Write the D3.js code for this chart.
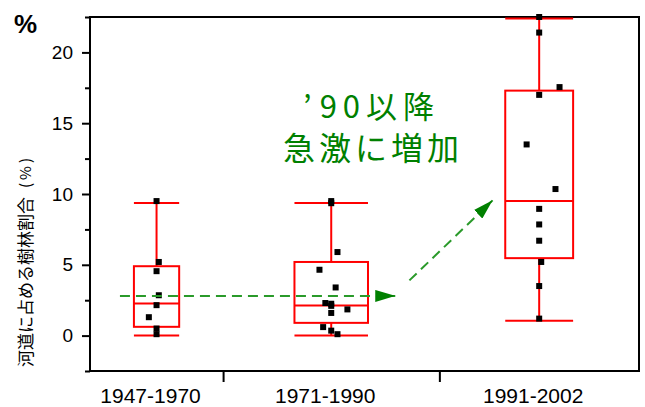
<!DOCTYPE html>
<html><head><meta charset="utf-8">
<script src="https://cdn.jsdelivr.net/npm/d3@7"></script>
<style>body{margin:0;background:#fff}svg{display:block}</style>
</head><body>
<svg id="c" width="645" height="407"></svg>
<script>
// ---- data ----
const categories = ["1947-1970", "1971-1990", "1991-2002"];
const points = [
  [9.5, 5.2, 4.55, 2.85, 2.15, 1.3, 0.5, 0.1],
  [9.5, 9.35, 5.9, 4.65, 3.4, 2.3, 2.25, 2.1, 1.85, 1.6, 0.6, 0.35, 0.1],
  [22.5, 21.4, 17.55, 17.0, 13.5, 10.35, 8.95, 7.85, 6.7, 5.2, 3.5, 1.2]
];
// horizontal jitter of each point, as fraction of half box width
const jitter = [
  [0, 0.1, 0, 0.1, 0, -0.34, 0, 0],
  [0, 0, 0.17, -0.32, 0.12, -0.16, 0, 0, 0.44, 0, -0.22, 0, 0.17],
  [0, 0, 0.6, 0, -0.37, 0.48, 0, 0, 0, 0.06, 0, 0]
];
const whiskerLow  = [0, 0, 1.05];
const q1          = [0.62, 0.9, 5.47];
const median      = [2.27, 2.13, 9.5];
const q3          = [4.9, 5.2, 17.3];
const whiskerHigh = [9.37, 9.37, 22.4];
const yTicks = [0, 5, 10, 15, 20];
const yMinorTicks = [-2.5, 2.5, 7.5, 12.5, 17.5, 22.5];
const yTitle = "河道に占める樹林割合";
const yTitleUnit = "(%)";
const unitLabel = "%";
const noteLine1 = ["’", "90以降"];
const noteLine2 = "急激に増加";
// annotation arrows in data coordinates (x: cumulative sample index, y: %)
const arrowFlat = [[1.8, 2.8], [18.35, 2.8]];
const arrowRise = [[19.2, 3.9], [24.2, 9.55]];

// ---- layout ----
const svg = d3.select("#c");
const L = 90, R = 639, T = 17, B = 371;
const counts = points.map(p => p.length);
const cum = [0]; counts.forEach((c, i) => cum.push(cum[i] + c));
const x = d3.scaleLinear().domain([0, cum[cum.length - 1]]).range([L, R]);
const y = d3.scaleLinear().domain([-2.5, 22.5]).range([B, T]);

const font = "'Liberation Sans', Arial, sans-serif";
const jp = "'Noto Sans CJK JP', sans-serif";

// y axis
const yAxis = svg.append("g").attr("transform", `translate(${L},0)`)
  .call(d3.axisLeft(y).tickValues(yTicks).tickSize(8).tickPadding(9).tickFormat(d3.format("d")));
yAxis.select(".domain").remove();
yAxis.selectAll(".tick line").attr("stroke", "#000").attr("stroke-width", 2);
yAxis.selectAll(".tick text").attr("font-family", font).attr("font-size", 19).attr("fill", "#000");
const yMinor = svg.append("g").attr("transform", `translate(${L},0)`)
  .call(d3.axisLeft(y).tickValues(yMinorTicks).tickSize(5).tickFormat(""));
yMinor.select(".domain").remove();
yMinor.selectAll(".tick line").attr("stroke", "#000").attr("stroke-width", 2);

// x axis (category separators)
const xAxis = svg.append("g").attr("transform", `translate(0,${B})`)
  .call(d3.axisBottom(x).tickValues(cum.slice(1, -1)).tickSize(11).tickFormat(""));
xAxis.select(".domain").remove();
xAxis.selectAll(".tick line").attr("stroke", "#000").attr("stroke-width", 2);

svg.append("g").selectAll("text").data(categories).join("text")
  .attr("x", (d, i) => x((cum[i] + cum[i + 1]) / 2) - 6)
  .attr("y", 403)
  .attr("text-anchor", "middle")
  .attr("font-family", font).attr("font-size", 21).attr("fill", "#000")
  .text(d => d);

// frame
svg.append("rect").attr("x", L).attr("y", T).attr("width", R - L).attr("height", B - T)
  .attr("fill", "none").attr("stroke", "#000").attr("stroke-width", 2);

// boxes
const red = "#ff0000";
const g = svg.append("g").attr("stroke", red).attr("stroke-width", 2).attr("fill", "none");
categories.forEach((c, i) => {
  const cx = x((cum[i] + cum[i + 1]) / 2);
  const hw = (x(cum[i + 1]) - x(cum[i])) * 0.17;
  g.append("rect").attr("x", cx - hw).attr("y", y(q3[i])).attr("width", 2 * hw)
    .attr("height", y(q1[i]) - y(q3[i]));
  g.append("line").attr("x1", cx - hw).attr("x2", cx + hw).attr("y1", y(median[i])).attr("y2", y(median[i]));
  g.append("line").attr("x1", cx).attr("x2", cx).attr("y1", y(q3[i])).attr("y2", y(whiskerHigh[i]));
  g.append("line").attr("x1", cx).attr("x2", cx).attr("y1", y(q1[i])).attr("y2", y(whiskerLow[i]));
  g.append("line").attr("x1", cx - hw).attr("x2", cx + hw).attr("y1", y(whiskerHigh[i])).attr("y2", y(whiskerHigh[i]));
  g.append("line").attr("x1", cx - hw).attr("x2", cx + hw).attr("y1", y(whiskerLow[i])).attr("y2", y(whiskerLow[i]));
  svg.append("g").selectAll("rect").data(points[i]).join("rect")
    .attr("x", (d, j) => cx + jitter[i][j] * hw - 3)
    .attr("y", d => y(d) - 3)
    .attr("width", 6).attr("height", 6).attr("fill", "#000");
});

// annotation arrows
const defs = svg.append("defs");
defs.append("marker").attr("id", "ah").attr("viewBox", "0 -6 20 12")
  .attr("refX", 20).attr("refY", 0).attr("markerWidth", 20).attr("markerHeight", 12)
  .attr("markerUnits", "userSpaceOnUse").attr("orient", "auto")
  .append("path").attr("d", "M0,-6L20,0L0,6Z").attr("fill", "#008000");
const line = d3.line().x(d => x(d[0])).y(d => y(d[1]));
[arrowFlat, arrowRise].forEach(a => {
  svg.append("path").attr("d", line(a)).attr("fill", "none")
    .attr("stroke", "#2a9a2a").attr("stroke-width", 2).attr("stroke-dasharray", "10,6")
    .attr("marker-end", "url(#ah)");
});

// note text
const n1 = svg.append("text").attr("x", 303).attr("y", 118)
  .attr("font-family", jp).attr("font-size", 31).attr("fill", "#008000");
n1.append("tspan").text(noteLine1[0]);
n1.append("tspan").attr("dx", 8).attr("letter-spacing", 6).text(noteLine1[1]);
svg.append("text").attr("x", 373).attr("y", 160).attr("text-anchor", "middle")
  .attr("font-family", jp).attr("font-size", 32).attr("letter-spacing", 4).attr("fill", "#008000")
  .text(noteLine2);

// unit label
svg.append("text").attr("x", 14).attr("y", 33).attr("font-family", font)
  .attr("font-weight", "bold").attr("font-size", 26).attr("fill", "#000").text(unitLabel);

// y title
const yt = svg.append("text").attr("transform", "translate(24,367) rotate(-90)")
  .attr("dominant-baseline", "central").attr("font-family", jp).attr("fill", "#000");
yt.append("tspan").attr("font-size", 17).text(yTitle);
yt.append("tspan").attr("font-size", 15).attr("dx", 9).attr("letter-spacing", 3).text(yTitleUnit);
</script>
</body></html>
